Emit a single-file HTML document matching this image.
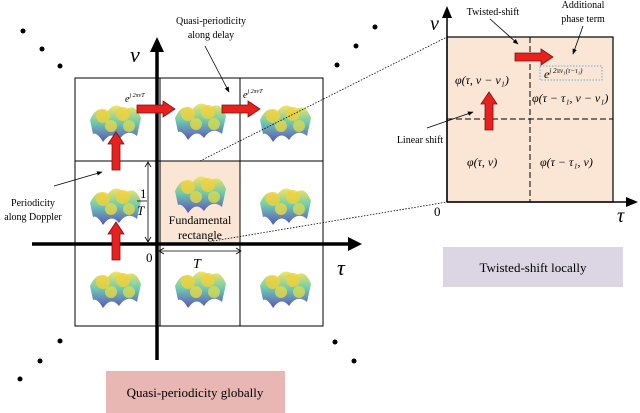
<!DOCTYPE html>
<html><head><meta charset="utf-8"><style>body{margin:0;background:#fff}svg{display:block}text{font-family:"Liberation Serif",serif}</style></head><body>
<svg width="640" height="413" viewBox="0 0 640 413" xmlns="http://www.w3.org/2000/svg">
<defs>
<linearGradient id="g" x1="0" y1="0" x2="0" y2="1"><stop offset="0" stop-color="#f6e24a"/><stop offset="0.45" stop-color="#5fc7a8"/><stop offset="1" stop-color="#4a3fb5"/></linearGradient>
<marker id="ah" viewBox="0 0 10 10" refX="9" refY="5" markerWidth="7" markerHeight="7" orient="auto"><path d="M0,1 L10,5 L0,9 z" fill="#000"/></marker>
<g id="s"><path d="M-25,-2 Q-18,-18 -8,-10 Q0,-22 10,-12 Q20,-20 26,-4 L22,14 Q12,6 4,18 Q-4,8 -12,20 Q-18,10 -22,12 z" fill="url(#g)" opacity="0.9"/>
<circle cx="-12" cy="-6" r="7" fill="#f3d13a" opacity="0.8"/><circle cx="8" cy="-8" r="7" fill="#f3d13a" opacity="0.8"/><circle cx="-4" cy="4" r="6" fill="#e9d844" opacity="0.8"/><circle cx="14" cy="4" r="6" fill="#d8dc4e" opacity="0.8"/></g>
<g id="rh"><path d="M0,-4 L26,-4 L26,-8 L38,0 L26,8 L26,4 L0,4 z" fill="#e8201e" stroke="#7a1010" stroke-width="0.8"/></g>
</defs>
<!-- left grid -->
<rect x="160" y="161" width="80" height="82" fill="#fbe6d6"/>
<g fill="none" stroke="#000" stroke-width="1"><rect x="75" y="78" width="248" height="248"/>
<line x1="160" y1="78" x2="160" y2="326"/><line x1="240" y1="78" x2="240" y2="326"/>
<line x1="75" y1="161" x2="323" y2="161"/></g>
<use href="#s" x="115" y="122"/><use href="#s" x="200" y="120"/><use href="#s" x="285" y="122"/>
<use href="#s" x="115" y="205"/><use href="#s" x="200" y="193"/><use href="#s" x="285" y="205"/>
<use href="#s" x="115" y="288"/><use href="#s" x="200" y="288"/><use href="#s" x="285" y="288"/>
<!-- axes -->
<line x1="32" y1="244" x2="350" y2="244" stroke="#000" stroke-width="3.5"/><path d="M348,237 L362,244 L348,251z"/>
<line x1="157" y1="360" x2="157" y2="50" stroke="#000" stroke-width="3.5"/><path d="M150,52 L157,37 L164,52z"/>
<text x="130" y="62" font-size="22" font-style="italic">ν</text>
<text x="337" y="275" font-size="22" font-style="italic">τ</text>
<text x="146" y="262" font-size="13">0</text>
<!-- dims -->
<g stroke="#000" stroke-width="0.8" fill="none"><line x1="148" y1="163" x2="148" y2="241"/><path d="M145,167 L148,162 L151,167 M145,237 L148,242 L151,237"/>
<line x1="160" y1="251" x2="240" y2="251"/><path d="M164,248 L159,251 L164,254 M236,248 L241,251 L236,254"/></g>
<text x="140" y="198" font-size="13">1</text><line x1="137" y1="201" x2="147" y2="201" stroke="#000" stroke-width="0.8"/><text x="137" y="215" font-size="13" font-style="italic">T</text>
<text x="193" y="268" font-size="14" font-style="italic">T</text>
<text x="200" y="224" font-size="12" text-anchor="middle">Fundamental</text><text x="200" y="239" font-size="12" text-anchor="middle">rectangle</text>
<!-- red arrows -->
<use href="#rh" x="137" y="109"/><use href="#rh" x="222" y="109"/>
<use href="#rh" transform="translate(116,170) rotate(-90)"/><use href="#rh" transform="translate(116,260) rotate(-90)"/>
<text x="125" y="102" font-size="10" font-style="italic">e<tspan font-size="6" dy="-5">j 2πνT</tspan></text>
<text x="243" y="98" font-size="10" font-style="italic">e<tspan font-size="6" dy="-5">j 2πνT</tspan></text>
<text x="211" y="24" font-size="10" text-anchor="middle">Quasi-periodicity</text><text x="211" y="38" font-size="10" text-anchor="middle">along delay</text>
<line x1="205" y1="46" x2="229" y2="92" stroke="#000" stroke-width="0.8" marker-end="url(#ah)"/>
<text x="33" y="206" font-size="10" text-anchor="middle">Periodicity</text><text x="33" y="220" font-size="10" text-anchor="middle">along Doppler</text>
<line x1="54" y1="186" x2="102" y2="172" stroke="#000" stroke-width="0.8" marker-end="url(#ah)"/>
<!-- dots -->
<g fill="#000"><circle cx="23" cy="31" r="2.5"/><circle cx="42" cy="49" r="2.5"/><circle cx="60" cy="66" r="2.5"/>
<circle cx="60" cy="341" r="2.5"/><circle cx="40" cy="361" r="2.5"/><circle cx="20" cy="379" r="2.5"/>
<circle cx="356" cy="46" r="2.5"/><circle cx="337" cy="65" r="2.5"/><circle cx="375" cy="27" r="2.5"/>
<circle cx="335" cy="342" r="2.5"/><circle cx="354" cy="361" r="2.5"/></g>
<!-- dotted connectors -->
<g stroke="#000" stroke-width="0.8" stroke-dasharray="1.5,1.5"><line x1="200" y1="161" x2="447" y2="37"/><line x1="213" y1="241" x2="447" y2="202"/></g>
<!-- right panel -->
<rect x="447" y="37" width="166" height="165" fill="#fbe6d6" stroke="#000" stroke-width="1.2"/>
<g stroke="#000" stroke-width="1" stroke-dasharray="6,3"><line x1="530" y1="37" x2="530" y2="202"/><line x1="447" y1="119" x2="613" y2="119"/></g>
<line x1="447" y1="202" x2="628" y2="202" stroke="#000" stroke-width="1.5"/><path d="M626,197 L638,202 L626,207z"/>
<line x1="447" y1="202" x2="447" y2="16" stroke="#000" stroke-width="1.5"/><path d="M442,18 L447,6 L452,18z"/>
<text x="430" y="30" font-size="20" font-style="italic">ν</text>
<text x="617" y="222" font-size="20" font-style="italic">τ</text>
<text x="434" y="216" font-size="13">0</text>
<rect x="540" y="66" width="62" height="14" fill="none" stroke="#2aa8e8" stroke-width="0.8" stroke-dasharray="1.5,1.5"/>
<text x="544" y="78" font-size="12" font-style="italic">e<tspan font-size="7" dy="-5">j 2πν₁(τ−τ₁)</tspan></text>
<use href="#rh" x="515" y="57"/><use href="#rh" transform="translate(489,130) rotate(-90)"/>
<g font-size="12" font-style="italic"><text x="455" y="84">φ(τ, ν − ν₁)</text><text x="532" y="102">φ(τ − τ₁, ν − ν₁)</text>
<text x="467" y="166">φ(τ, ν)</text><text x="540" y="166">φ(τ − τ₁, ν)</text></g>
<text x="493" y="15" font-size="10" text-anchor="middle">Twisted-shift</text>
<line x1="490" y1="19" x2="518" y2="44" stroke="#000" stroke-width="0.8" marker-end="url(#ah)"/>
<text x="583" y="8" font-size="10" text-anchor="middle">Additional</text><text x="583" y="22" font-size="10" text-anchor="middle">phase term</text>
<line x1="583" y1="26" x2="573" y2="54" stroke="#000" stroke-width="0.8" marker-end="url(#ah)"/>
<text x="420" y="143" font-size="10" text-anchor="middle">Linear shift</text>
<line x1="427" y1="128" x2="473" y2="112" stroke="#000" stroke-width="0.8" marker-end="url(#ah)"/>
<!-- label boxes -->
<rect x="443" y="247" width="180" height="40" fill="#dcd6e4"/>
<text x="533" y="272" font-size="13" text-anchor="middle">Twisted-shift locally</text>
<rect x="106" y="371" width="179" height="42" fill="#e8b7b4"/>
<text x="195" y="397" font-size="13" text-anchor="middle">Quasi-periodicity globally</text>
</svg>
</body></html>
